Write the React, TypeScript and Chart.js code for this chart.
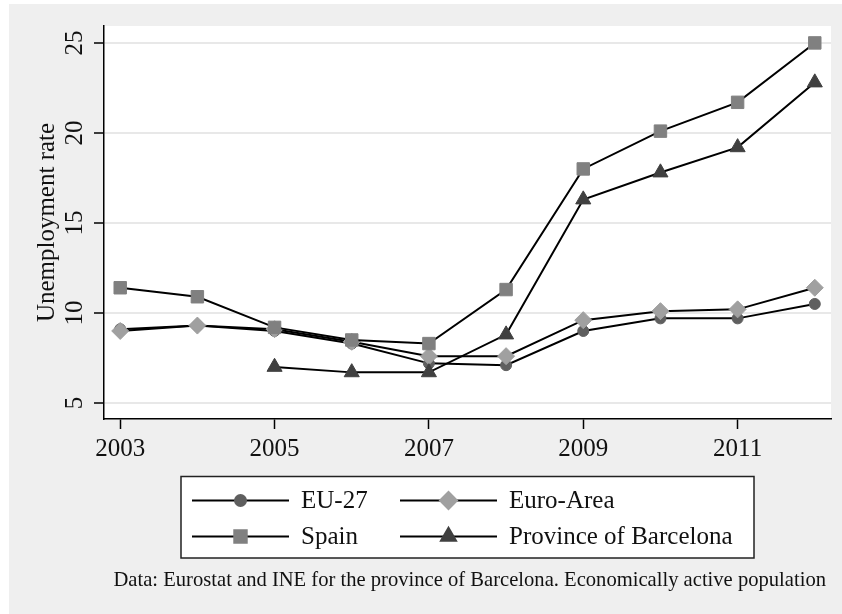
import React, { useEffect, useRef } from "react";
import Chart from "chart.js/auto";
import { drawPoint } from "chart.js/helpers";

const years = [2003, 2004, 2005, 2006, 2007, 2008, 2009, 2010, 2011, 2012];
const eu27 = [9.1, 9.3, 9.0, 8.3, 7.2, 7.1, 9.0, 9.7, 9.7, 10.5];
const euroArea = [9.0, 9.3, 9.1, 8.4, 7.6, 7.6, 9.6, 10.1, 10.2, 11.4];
const spain = [11.4, 10.9, 9.2, 8.5, 8.3, 11.3, 18.0, 20.1, 21.7, 25.0];
const barcelona = [null, null, 7.0, 6.7, 6.7, 8.8, 16.3, 17.8, 19.2, 22.8];

const seriesLabels = ["EU-27", "Euro-Area", "Spain", "Province of Barcelona"];
const xTicks = [2003, 2005, 2007, 2009, 2011];
const yTicks = [5, 10, 15, 20, 25];
const yTitle = "Unemployment rate";
const note = "Data: Eurostat and INE for the province of Barcelona. Economically active population";

const FONT = '"Liberation Serif", "Times New Roman", serif';

const toPoints = (vals: (number | null)[]) => years.map((y, i) => ({ x: y, y: vals[i] }));

const extrasPlugin = {
  id: "extras",
  beforeDraw(chart: any) {
    const { ctx, chartArea } = chart;
    ctx.save();
    ctx.fillStyle = "#ffffff";
    ctx.fillRect(chartArea.left, chartArea.top, chartArea.right - chartArea.left, chartArea.bottom - chartArea.top);
    ctx.restore();
  },
  afterDraw(chart: any) {
    const { ctx, chartArea } = chart;
    const yScale = chart.scales.y;
    ctx.save();
    // y tick labels rotated
    ctx.fillStyle = "#111";
    ctx.font = `25px ${FONT}`;
    ctx.textAlign = "center";
    ctx.textBaseline = "middle";
    yScale.ticks.forEach((t: any) => {
      const py = yScale.getPixelForValue(t.value);
      ctx.save();
      ctx.translate(64, py);
      ctx.rotate(-Math.PI / 2);
      ctx.fillText(String(t.value), 0, 2);
      ctx.restore();
    });
    // y title
    ctx.save();
    ctx.translate(36, (chartArea.top + chartArea.bottom) / 2);
    ctx.rotate(-Math.PI / 2);
    ctx.fillText(yTitle, 0, 2);
    ctx.restore();

    // legend
    const cx = (chartArea.left + chartArea.right) / 2;
    const boxW = 573;
    const boxH = 81.5;
    const bx = cx - boxW / 2;
    const by = 472.5;
    ctx.fillStyle = "#ffffff";
    ctx.fillRect(bx, by, boxW, boxH);
    ctx.strokeStyle = "#222";
    ctx.lineWidth = 1.5;
    ctx.strokeRect(bx, by, boxW, boxH);
    const colX = [bx + 11, bx + 219];
    const rowY = [by + 24, by + 60];
    chart.data.datasets.forEach((ds: any, i: number) => {
      const lx = colX[i % 2];
      const ly = rowY[Math.floor(i / 2)];
      ctx.strokeStyle = "#000";
      ctx.lineWidth = 2;
      ctx.beginPath();
      ctx.moveTo(lx, ly);
      ctx.lineTo(lx + 97, ly);
      ctx.stroke();
      ctx.fillStyle = ds.pointBackgroundColor;
      ctx.strokeStyle = ds.pointBackgroundColor;
      drawPoint(ctx, { pointStyle: ds.pointStyle, radius: ds.pointRadius, rotation: 0, borderWidth: 1 }, lx + 48.5, ly);
      ctx.fillStyle = "#111";
      ctx.font = `25px ${FONT}`;
      ctx.textAlign = "left";
      ctx.textBaseline = "middle";
      ctx.fillText(ds.label, lx + 109, ly + 1);
    });

    // note
    ctx.fillStyle = "#111";
    ctx.font = `20.6px ${FONT}`;
    ctx.textAlign = "right";
    ctx.textBaseline = "middle";
    ctx.fillText(note, 817, 577);
    ctx.restore();
  },
};

export default function App() {
  const ref = useRef<HTMLCanvasElement>(null);
  useEffect(() => {
    document.body.style.margin = "0";
    const canvas = ref.current!;
    const mk = (label: string, data: (number | null)[], style: string, color: string, radius: number, order: number) => ({
      label,
      data: toPoints(data),
      borderColor: "#000",
      borderWidth: 2,
      pointStyle: style,
      pointRadius: radius,
      pointBackgroundColor: color,
      pointBorderColor: color,
      pointBorderWidth: 1,
      tension: 0,
      spanGaps: false,
      order,
    });
    const chart = new Chart(canvas, {
      type: "line",
      data: {
        datasets: [
          mk(seriesLabels[0], eu27, "circle", "#5f5f5f", 5.5, 3),
          mk(seriesLabels[1], euroArea, "rectRot", "#a0a0a0", 8.5, 2),
          mk(seriesLabels[2], spain, "rect", "#808080", 8.8, 1),
          mk(seriesLabels[3], barcelona, "triangle", "#404040", 8.7, 0),
        ] as any,
      },
      options: {
        responsive: false,
        animation: false,
        layout: { padding: { top: 22, right: 11, left: 0, bottom: 0 } },
        plugins: { legend: { display: false }, tooltip: { enabled: false } },
        scales: {
          x: {
            type: "linear",
            min: 2002.79,
            max: 2012.21,
            afterBuildTicks: (s: any) => {
              s.ticks = xTicks.map((v) => ({ value: v }));
            },
            afterFit: (s: any) => {
              s.height = 195;
            },
            grid: { drawOnChartArea: false, drawTicks: true, tickLength: 10, tickColor: "#000", tickWidth: 1.5 },
            border: { display: true, color: "#000", width: 1.5 },
            ticks: {
              font: { family: FONT, size: 25 },
              color: "#111",
              padding: 5,
              maxRotation: 0,
              autoSkip: false,
              callback: (v: any) => String(v),
            },
          },
          y: {
            type: "linear",
            min: 4.11,
            max: 25.94,
            afterBuildTicks: (s: any) => {
              s.ticks = yTicks.map((v) => ({ value: v }));
            },
            afterFit: (s: any) => {
              s.width = 95;
            },
            grid: { color: "#e8e8e8", lineWidth: 2, drawTicks: true, tickLength: 10, tickColor: "#000", tickWidth: 1.5 },
            border: { display: true, color: "#000", width: 1.5 },
            ticks: { display: false },
          },
        },
      },
      plugins: [extrasPlugin],
    });
    return () => chart.destroy();
  }, []);
  return (
    <div style={{ position: "relative", width: 842, height: 614, background: "#ffffff" }}>
      <div style={{ position: "absolute", left: 9, top: 4, width: 833, height: 610, background: "#efefef" }}>
        <canvas ref={ref} width={833} height={610} style={{ display: "block", width: 833, height: 610 }} />
      </div>
    </div>
  );
}
